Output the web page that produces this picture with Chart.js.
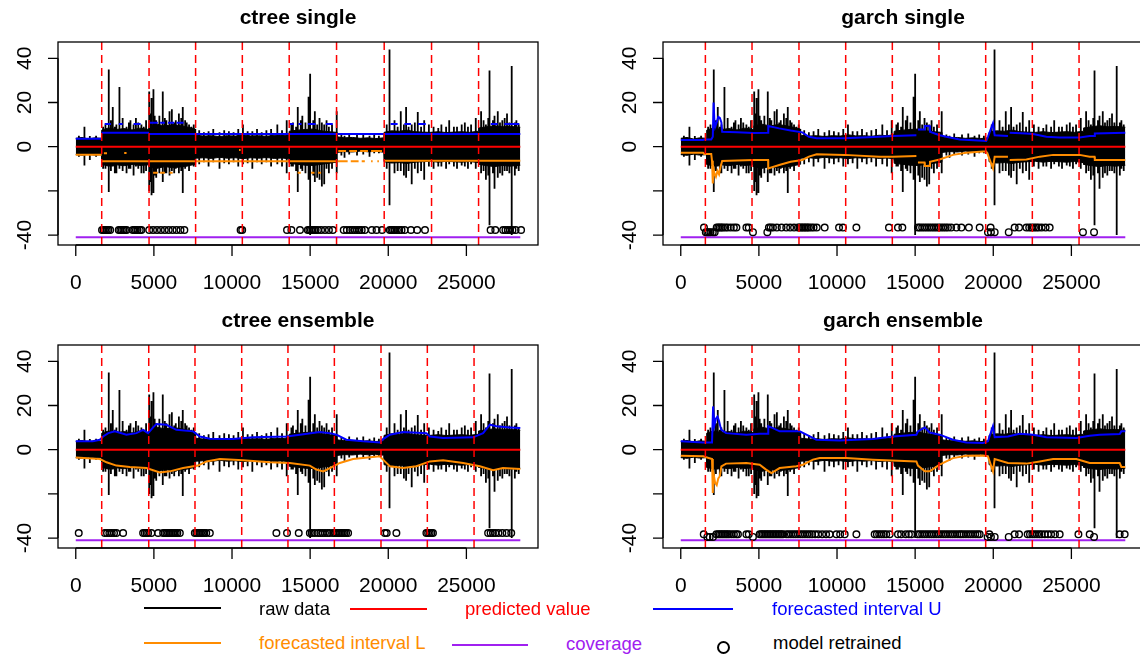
<!DOCTYPE html>
<html>
<head>
<meta charset="utf-8">
<script src="https://cdn.jsdelivr.net/npm/chart.js@4.4.0/dist/chart.umd.min.js"></script>
<style>
  html, body { margin: 0; padding: 0; background: #fff; }
  #wrap { position: relative; width: 1140px; height: 660px; overflow: hidden; font-family: "Liberation Sans", Arial, sans-serif; }
  canvas { position: absolute; }
  .ln { position: absolute; height: 2px; }
  .tx { position: absolute; font-size: 18.5px; line-height: 20px; white-space: nowrap; transform: translateY(-50%); }
  .pt { position: absolute; width: 9px; height: 9px; border: 2.5px solid #000; border-radius: 50%; }
</style>
</head>
<body>
<div id="wrap">
  <canvas id="c1" width="570" height="300" style="left:0;top:0"></canvas>
  <canvas id="c2" width="580" height="300" style="left:570px;top:0"></canvas>
  <canvas id="c3" width="570" height="300" style="left:0;top:303px"></canvas>
  <canvas id="c4" width="580" height="300" style="left:570px;top:303px"></canvas>

  <div class="ln" style="left:144px;top:607px;width:77px;background:#000"></div>
  <div class="tx" style="left:259px;top:609px;color:#000">raw data</div>
  <div class="ln" style="left:350px;top:608px;width:77px;background:#ff0000"></div>
  <div class="tx" style="left:465px;top:609px;color:#ff0000">predicted value</div>
  <div class="ln" style="left:653px;top:608px;width:80px;background:#0000ff"></div>
  <div class="tx" style="left:772px;top:609px;color:#0000ff">forecasted interval U</div>

  <div class="ln" style="left:144px;top:642px;width:77px;background:#ff8c00"></div>
  <div class="tx" style="left:259px;top:643px;color:#ff8c00">forecasted interval L</div>
  <div class="ln" style="left:452px;top:644px;width:76px;background:#a020f0"></div>
  <div class="tx" style="left:566px;top:644px;color:#a020f0">coverage</div>
  <div class="pt" style="left:717px;top:641px"></div>
  <div class="tx" style="left:773px;top:643px;color:#000">model retrained</div>
</div>
<script>
// axis ticks
const xTicks = [0, 5000, 10000, 15000, 20000, 25000];
const yTicks = [-40, -20, 0, 20, 40];
const yTickLabels = ['-40', '', '0', '20', '40'];

// raw data: dense body envelope + individual spikes (shared by all panels)
const bodyX = [0, 400, 800, 1200, 1640, 1660, 2100, 2600, 3100, 3600, 4100, 4660, 4680, 5200, 5700, 6200, 6700, 7200, 7650, 7670, 8200, 8700, 9200, 9700, 10200, 10700, 11200, 11700, 12200, 12700, 13200, 13640, 13660, 14200, 14700, 15200, 15700, 16200, 16690, 16710, 17200, 17700, 18200, 18700, 19200, 19710, 19730, 20200, 20700, 21200, 21700, 22200, 22700, 23200, 23700, 24200, 24700, 25200, 25760, 25780, 26300, 26800, 27300, 27800, 28450];
const bodyHi = [3.8, 4.2, 3.5, 4.0, 3.8,
  7.5, 8.5, 7.8, 8.2, 7.6, 8.4, 7.8,
  9.5, 10.2, 9.4, 10.0, 9.6, 8.8, 8.0,
  5.2, 4.8, 5.0, 4.6, 5.0, 4.8, 5.4, 4.9, 5.0, 4.7, 5.2, 5.0, 5.4,
  7.0, 7.5, 7.8, 8.0, 7.2, 6.8, 6.5,
  4.5, 4.0, 4.2, 3.8, 4.0, 3.7, 4.0,
  6.5, 7.2, 7.0, 7.5, 6.8, 6.6, 6.5, 6.8, 6.4, 6.6, 6.8, 6.5, 7.0,
  8.5, 9.0, 9.5, 9.0, 9.2, 8.8];
const bodyLo = [-3.6, -3.9, -3.4, -3.8, -3.6,
  -8.0, -8.8, -8.2, -8.6, -8.0, -8.5, -8.2,
  -9.2, -9.8, -9.0, -9.5, -9.2, -8.6, -8.0,
  -5.2, -5.0, -5.3, -4.8, -5.2, -5.0, -5.4, -5.0, -5.2, -4.9, -5.3, -5.1, -5.5,
  -7.5, -8.0, -8.4, -8.5, -8.0, -7.5, -7.0,
  -2.6, -2.2, -2.4, -2.0, -2.3, -2.1, -2.5,
  -6.8, -7.4, -7.2, -7.6, -7.0, -6.8, -6.6, -7.0, -6.6, -6.8, -7.0, -6.7, -7.2,
  -8.0, -8.6, -9.0, -8.5, -8.8, -8.4];

const spikeX = [200, 555, 900, 1300,
  1750, 1900, 2112, 2250, 2368, 2500, 2600, 2795, 3000, 3250, 3400, 3500, 3700, 3850, 4000, 4200, 4352, 4500,
  4700, 4780, 4850, 4971, 5050, 5150, 5350, 5568, 5700, 5800, 6000, 6150, 6300, 6400, 6600, 6750, 6848, 7000, 7100, 7250, 7400, 7550,
  7900, 8200, 8500, 8800, 9200, 9500, 9800, 10100, 10400, 10700, 11000, 11300, 11600, 11900, 12200, 12500, 12900, 13200, 13500,
  13800, 13900, 14100, 14208, 14400, 14500, 14700, 14900, 15000, 15200, 15300, 15450, 15600, 15750, 15900, 16050, 16200, 16400, 16700,
  17000, 17200, 17500, 18000, 18400, 18800, 19100, 19400,
  19900, 20080, 20400, 20600, 20800, 21000, 21141, 21300, 21500, 21700, 21888, 22100, 22300, 22600, 22900, 23200, 23400, 23700, 23900, 24200, 24400, 24700, 24900, 25100, 25300, 25600,
  25941, 26100, 26250, 26400, 26480, 26700, 26800, 27008, 27150, 27300, 27450, 27600, 27750, 27900, 28100, 28200, 28350];
const spikeHi = [5, 9, 4.8, 5,
  9, 10, 35, 12, 18, 9, 10, 27, 13, 9, 11, 12, 10, 13, 11, 10, 9, 12,
  25, 15, 22, 26, 14, 12, 14, 25, 13, 12, 16, 17, 11, 12, 15, 13, 18, 12, 11, 10, 9, 10,
  7.5, 6.5, 7, 8, 6.5, 7.5, 7, 6.5, 8, 10, 7, 7, 8, 6.5, 7.5, 8, 10, 7.5, 12,
  10, 11, 9, 18, 12, 14, 11, 22.6, 33, 12, 16, 10, 13, 11, 10, 12, 9, 10, 16,
  5.5, 5, 6, 5.5, 6, 5, 5.5, 5,
  10, 44, 12, 9, 16, 10, 18, 9, 10, 11, 15.7, 9, 12, 10, 9, 8.5, 10, 9, 12, 9, 9, 10, 11, 9, 10, 13,
  16, 12, 10, 13, 34.5, 12, 14, 16, 11, 12, 13, 15, 11, 36.5, 11, 12, 10];
const spikeLo = [-4.5, -8.5, -6, -4.5,
  -10, -10, -20.5, -11, -9, -12, -12, -10, -11, -12, -10, -10, -13, -9, -10, -12, -12, -11,
  -20, -16, -22, -21, -13, -14, -12, -16, -12, -12, -13, -11, -12, -10, -12, -11, -21, -10, -9, -11, -8, -9,
  -8, -7, -9, -7, -10, -7.5, -8, -7, -9, -8, -7.5, -10, -7, -8, -7, -9, -8, -9, -12,
  -9, -9, -11, -20.5, -10, -11, -12, -15, -40, -13, -16, -14, -15, -18, -17, -10, -12, -10, -12,
  -4, -5, -3.5, -4, -3.5, -4.5, -3, -3,
  -10, -26.5, -12, -11, -11, -13, -14, -11, -17, -10, -12, -11, -15, -9, -10, -9, -9, -10, -8, -9, -10, -8.5, -9, -10, -8, -10,
  -12, -11, -15, -13, -35.6, -12, -19, -14, -12, -13, -11, -11, -12, -40, -13, -10, -11];

// predicted value and coverage (all panels)
const predX = [0, 28450];
const predY = [0, 0];
const covX = [0, 28450];
const covY = [-41, -41];

// ---- ctree single ----
const csLines = [1660, 4690, 7670, 10660, 13660, 16690, 19740, 22770, 25780];
const csUX = [0, 1660, 1660, 1660, 4690, 4690, 4690, 28450];
const csUY = [3.6, 3.6, null, 6.3, 6.3, null, 5.8, 5.8];
const csUDash = [[1850, 2250, 10.3], [2750, 3000, 10.3], [3700, 4150, 10.3], [4700, 5250, 10.9], [5400, 5700, 10.9], [5900, 6300, 10.9], [6450, 6900, 10.9],
  [13650, 13950, 10.3], [14250, 14450, 10.3], [14850, 15350, 10.3], [16000, 16450, 10.3],
  [20150, 20600, 10.3], [21030, 21450, 10.3], [21900, 22400, 10.3], [26560, 27000, 10.3], [27430, 28390, 10.3]];
const csLX = [0, 1660, 1660, 1660, 16690, 16690, 19740, 28450];
const csLY = [-3.6, -3.6, null, -6.6, -6.6, null, -6.4, -6.4];
const csLDash = [[1800, 2000, -3.0], [3100, 3250, -2.9], [10450, 10550, -1.5],
  [4950, 5250, -11.8], [5400, 5700, -11.8], [6000, 6200, -11.8],
  [14200, 14400, -11.8], [15060, 15280, -11.8], [15500, 15700, -11.8],
  [16800, 17300, -1.9], [17500, 18000, -1.9], [18200, 18700, -1.9], [18900, 19600, -1.9],
  [16750, 17400, -6.6], [17600, 18100, -6.6], [18300, 18500, -6.6], [18900, 19000, -6.6], [19300, 19400, -6.6]];
const csRetrain = [1680, 1780, 1880, 1980, 2080, 2200, 2750, 2850, 2950, 3050, 3150, 3250, 3650, 3750, 3850, 3950, 4100, 4200,
  4700, 4950, 5200, 5450, 5700, 5950, 6200, 6450, 6700, 6950, 10550, 10650, 13520, 13800, 14350,
  14850, 14950, 15050, 15150, 15250, 15350, 15500, 15700, 15950, 16200, 16450,
  17150, 17350, 17550, 17700, 17850, 18000, 18150, 18300, 18500, 18950, 19250, 19600,
  20100, 20200, 20300, 20400, 20550, 20700, 20850, 21050, 21450, 21850, 22350,
  26550, 26850, 27350, 27500, 27650, 27800, 27950, 28150, 28500];
const csRetrainLow = [];

// ---- garch single ----
const garchLines = [1575, 4560, 7565, 10555, 13540, 16525, 19515, 22500, 25490];
const gsUX = [0, 1430, 1500, 1950, 2050, 2100, 2150, 2200, 2300, 2400, 2500, 2600, 2650, 3600, 4650, 5590, 5600, 6300, 7030, 7780, 8200, 8700, 10480, 12700, 13580, 15080, 15130, 15180, 15600, 15620, 15930, 15950, 16570, 17000, 17850, 19340, 19550, 19660, 19980, 20090, 20940, 21000, 21050, 22120, 22550, 23400, 24250, 25530, 26170, 26480, 26500, 28450];
const gsUY = [3.0, 3.0, 3.3, 3.3, 4.5, 20, 12, 9, 11, 13.5, 13, 11, 6.8, 6.5, 6.2, 6.3, 9.4, 8.3, 7.3, 6.5, 4.5, 3.8, 3.8, 4.5, 4.9, 5.2, null, 7.8, 7.8, 9.4, 9.4, 6.8, 5.2, 4.5, 3.3, 2.7, 2.6, 4.5, 10.6, 5.2, 4.8, null, 6.3, 6.0, 5.7, 4.5, 4.2, 4.2, 4.8, 4.8, 6.0, 6.3];
const gsLX = [0, 1430, 1500, 1950, 2000, 2050, 2100, 2150, 2250, 2350, 2450, 2550, 2650, 3600, 4650, 5590, 5600, 6300, 7030, 7780, 8200, 8700, 10480, 12700, 13580, 15080, 15130, 15180, 15600, 15620, 15930, 15950, 16570, 17420, 18270, 19340, 19550, 19660, 19980, 20090, 20940, 21000, 21050, 22120, 22980, 23830, 25530, 26170, 26480, 26500, 28450];
const gsLY = [-2.7, -2.7, -3.3, -3.3, -6.4, -16.6, -10, -12, -13.6, -11, -12.5, -9, -6.5, -6.3, -6.0, -6.0, -9.8, -8.3, -6.8, -6.0, -4.5, -3.4, -3.7, -4.5, -4.5, -4.2, null, -7.2, -7.2, -8.7, -8.7, -6.8, -5.8, -3.7, -2.7, -2.2, -2.2, -3.7, -9.8, -4.5, -4.5, null, -6.0, -5.8, -4.5, -3.7, -3.7, -4.5, -4.5, -6.0, -6.0];
const gsRetrain = [1485, 2300, 2400, 2500, 2600, 2700, 2850, 3000, 3200, 3400, 3560, 4200, 4350,
  5640, 5750, 5900, 6150, 6450, 6750, 7000, 7250, 7500, 7600, 7700, 7800, 7900, 8000, 8100, 8200, 8350, 8500, 8700,
  9210, 10130, 10380, 11240, 13325, 13900, 14180,
  15180, 15300, 15450, 15600, 15750, 15900, 16050, 16200, 16350, 16500, 16650, 16800, 16950, 17100, 17300, 17640,
  17960, 18440, 19130, 19830, 21370, 21650, 22120, 22300, 22450, 22600, 22750, 22900, 23100, 23350, 23610];
const gsRetrainLow = [1600, 1700, 1800, 1900, 2050, 2170, 4620, 5540, 19660, 19850, 20090, 20990, 25740, 26450];

// ---- ctree ensemble ----
const ceLines = [1660, 4670, 7630, 10620, 13580, 16550, 19535, 22500, 25490];
const ceUX = [0, 1088, 1540, 1750, 2080, 2500, 3245, 3880, 4310, 4630, 4950, 5160, 5800, 6440, 7510, 7940, 8580, 10070, 11350, 13480, 14340, 15620, 16260, 16680, 17320, 18390, 19460, 19670, 20100, 20950, 22440, 22660, 23510, 25430, 26070, 26500, 26920, 27780, 28450];
const ceUY = [3.8, 3.8, 4.5, 6.0, 7.5, 8.3, 6.8, 7.5, 9.0, 7.5, 10.1, 11.6, 11.3, 9.0, 8.3, 6.0, 5.0, 4.8, 5.6, 6.0, 6.8, 8.0, 7.5, 6.8, 4.5, 3.8, 3.3, 4.8, 6.8, 8.0, 7.5, 6.0, 5.3, 5.6, 7.5, 11.3, 10.6, 10.1, 9.8];
const ceLX = [0, 1540, 1970, 2600, 3460, 4520, 5380, 6020, 6870, 7820, 8370, 9220, 10710, 12420, 13700, 14980, 15400, 15840, 16480, 16900, 17750, 19450, 19780, 20100, 20950, 21800, 22660, 23510, 24790, 25860, 26710, 27340, 28450];
const ceLY = [-3.5, -4.2, -5.7, -7.2, -7.8, -8.3, -10.3, -9.8, -8.3, -7.2, -5.3, -4.2, -4.8, -5.7, -6.0, -7.2, -9.0, -9.8, -7.5, -6.0, -4.2, -3.0, -5.3, -7.5, -8.3, -7.5, -5.3, -4.8, -6.0, -7.5, -9.3, -8.3, -8.7];
const ceRetrain = [190, 1860, 2000, 2150, 2300, 2450, 2600, 3030, 4310, 4420, 4530, 4630, 4840, 5270,
  5590, 5700, 5800, 5900, 6000, 6100, 6200, 6300, 6400, 6500, 6660,
  7620, 7720, 7820, 7920, 8020, 8120, 8220, 8350, 8580, 12840, 13520, 14270,
  14980, 15100, 15300, 15510, 15650, 15800, 15950, 16100, 16250, 16470, 16580, 16700, 16800, 16900, 17000, 17100, 17200, 17300, 17430,
  19780, 19900, 20520, 22440, 22550, 22650, 22760, 22860, 26390, 26550, 26700, 26850, 27050, 27300, 27570, 27870];
const ceRetrainLow = [];

// ---- garch ensemble ----
const geUX = [0, 1430, 2000, 2070, 2150, 2250, 2350, 2450, 2550, 2600, 2900, 4200, 5050, 5590, 5600, 5900, 6330, 7610, 8040, 8680, 10170, 12300, 13580, 15080, 15180, 15620, 15930, 16570, 17420, 18270, 19340, 19660, 19980, 20090, 20940, 21690, 22550, 23400, 25320, 26170, 26810, 28090, 28200, 28450];
const geUY = [3.8, 3.3, 3.3, 19.6, 11, 14, 15, 13, 10, 9.0, 7.5, 6.8, 7.2, 7.2, 10.6, 9.8, 8.3, 8.3, 6.8, 4.5, 4.2, 4.8, 6.0, 6.8, 8.3, 10.1, 7.8, 6.8, 4.5, 3.3, 3.0, 3.8, 10.6, 5.7, 6.0, 7.2, 6.8, 5.6, 5.3, 6.3, 6.8, 7.1, 8.3, 8.3];
const geLX = [0, 1430, 2000, 2050, 2100, 2200, 2300, 2400, 2500, 2600, 2900, 4200, 5050, 5460, 5800, 6330, 7400, 7820, 8460, 8890, 10600, 12300, 15080, 15180, 15620, 15930, 16570, 17420, 18270, 19340, 19660, 19980, 20090, 20940, 22120, 22980, 23830, 25320, 26170, 28090, 28200, 28450];
const geLY = [-2.7, -3.0, -4.2, -19.6, -11, -15, -16, -13, -12, -7.5, -6.3, -6.0, -6.8, -9.0, -10.6, -8.3, -7.5, -6.8, -4.5, -3.8, -3.8, -4.5, -5.3, -7.2, -9.8, -9.8, -6.8, -3.8, -2.7, -2.6, -3.0, -9.8, -4.2, -6.0, -6.3, -5.3, -4.2, -4.2, -6.0, -6.0, -7.8, -7.8];
const geRetrain = [1470, 2280, 2400, 2500, 2600, 2700, 2800, 2900, 3000, 3100, 3250, 3400, 3550, 3660, 4200, 4350,
  5050, 5150, 5250, 5350, 5450, 5550, 5650, 5750, 5850, 5950, 6050, 6150, 6250, 6350, 6450, 6550,
  6760, 6900, 7050, 7200, 7350, 7500, 7650, 7800, 7950, 8100, 8250, 8400, 8600, 8800, 9050, 9300, 9530,
  9960, 10200, 10490, 11240, 12410, 12550, 12700, 12850, 13000, 13150, 13370, 13900, 14100, 14400, 14600, 14760,
  15160, 15300, 15450, 15600, 15750, 15900, 16050, 16200, 16350, 16500, 16650, 16800, 16950, 17100, 17250, 17400, 17550, 17700, 17850,
  17960, 18100, 18250, 18400, 18550, 18700, 18850, 19000, 19130, 19750,
  21370, 21650, 22200, 22350, 22500, 22650, 22800, 22950, 23100, 23300, 23500, 23700, 23950, 24250, 25450, 26170, 28090, 28410];
const geRetrainLow = [1700, 1850, 2060, 4620, 19640, 19850, 20090, 20990, 26450];

const RED = '#ff0000', BLUE = '#0000ff', ORANGE = '#ff8c00', PURPLE = '#a020f0';
const FONT = '"Liberation Sans", Arial, sans-serif';

const xy = (xs, ys) => xs.map((x, i) => ({ x, y: ys[i] }));
const segs = list => list.flatMap(([a, b, v]) => [{ x: a, y: v }, { x: b, y: v }, { x: b, y: null }]);

const rAxes = {
  id: 'rAxes',
  afterDraw(chart, args, opts) {
    const { ctx, chartArea: a, scales: { x, y } } = chart;
    ctx.save();
    ctx.strokeStyle = '#000';
    ctx.lineWidth = 1.3;
    ctx.strokeRect(a.left, a.top, a.right - a.left, a.bottom - a.top);
    ctx.beginPath();
    ctx.moveTo(x.getPixelForValue(xTicks[0]), a.bottom);
    ctx.lineTo(x.getPixelForValue(xTicks[xTicks.length - 1]), a.bottom);
    xTicks.forEach(v => {
      const p = x.getPixelForValue(v);
      ctx.moveTo(p, a.bottom); ctx.lineTo(p, a.bottom + 11);
    });
    ctx.moveTo(a.left, y.getPixelForValue(yTicks[0]));
    ctx.lineTo(a.left, y.getPixelForValue(yTicks[yTicks.length - 1]));
    yTicks.forEach(v => {
      const p = y.getPixelForValue(v);
      ctx.moveTo(a.left, p); ctx.lineTo(a.left - 10, p);
    });
    ctx.stroke();

    ctx.fillStyle = '#000';
    ctx.textAlign = 'center';
    ctx.textBaseline = 'middle';
    ctx.font = '21px ' + FONT;
    xTicks.forEach(v => ctx.fillText(String(v), x.getPixelForValue(v), a.bottom + 38));
    yTicks.forEach((v, i) => {
      if (!yTickLabels[i]) return;
      ctx.save();
      ctx.translate(a.left - 33, y.getPixelForValue(v));
      ctx.rotate(-Math.PI / 2);
      ctx.fillText(yTickLabels[i], 0, 0);
      ctx.restore();
    });
    ctx.font = 'bold 21px ' + FONT;
    ctx.fillText(opts.title, (a.left + a.right) / 2, a.top - 24);
    ctx.restore();
  }
};

function makePanel(id, title, pad, p) {
  const spikes = spikeX.flatMap((x, i) => [{ x, y: spikeLo[i] }, { x, y: spikeHi[i] }, { x, y: null }]);
  const circles = p.retrain.map(x => ({ x, y: p.level }))
    .concat(p.retrainLow.map(x => ({ x, y: p.levelLow })));
  const vlines = p.lines.flatMap(x => [{ x, y: -44.5 }, { x, y: 47.4 }, { x, y: null }]);

  new Chart(document.getElementById(id), {
    type: 'line',
    data: {
      datasets: [
        { data: xy(bodyX, bodyHi), borderColor: '#000', backgroundColor: '#000', borderWidth: 1, fill: '+1', order: 9 },
        { data: xy(bodyX, bodyLo), borderColor: '#000', borderWidth: 1, fill: false, order: 9 },
        { data: spikes, borderColor: '#000', borderWidth: 1.8, order: 8 },
        { data: xy(predX, predY), borderColor: RED, borderWidth: 2, order: 3 },
        { data: xy(p.ux, p.uy), borderColor: BLUE, borderWidth: 2, order: 4 },
        { data: segs(p.uDash), borderColor: BLUE, borderWidth: 2, order: 4 },
        { data: xy(p.lx, p.ly), borderColor: ORANGE, borderWidth: 2, order: 4 },
        { data: segs(p.lDash), borderColor: ORANGE, borderWidth: 2, order: 4 },
        { data: xy(covX, covY), borderColor: PURPLE, borderWidth: 2, order: 2 },
        { data: circles, showLine: false, pointRadius: 3.3, pointBorderWidth: 1.4,
          pointBorderColor: '#000', pointBackgroundColor: 'rgba(0,0,0,0)', order: 1 },
        { data: vlines, borderColor: RED, borderWidth: 1.5, borderDash: [8, 5], order: 0 }
      ]
    },
    options: {
      responsive: false,
      animation: false,
      events: [],
      layout: { padding: pad },
      elements: { point: { radius: 0 }, line: { tension: 0 } },
      scales: {
        x: { type: 'linear', display: false, min: -1137, max: 29583 },
        y: { type: 'linear', display: false, min: -44.5, max: 47.4 }
      },
      plugins: { legend: { display: false }, tooltip: { enabled: false }, rAxes: { title } }
    },
    plugins: [rAxes]
  });
}

const padL = { left: 58, right: 32, top: 42, bottom: 55 };
const padR = { left: 93, right: 7, top: 42, bottom: 55 };

makePanel('c1', 'ctree single', padL, {
  lines: csLines, ux: csUX, uy: csUY, uDash: csUDash, lx: csLX, ly: csLY, lDash: csLDash,
  retrain: csRetrain, retrainLow: csRetrainLow, level: -37.7, levelLow: -37.7 });
makePanel('c2', 'garch single', padR, {
  lines: garchLines, ux: gsUX, uy: gsUY, uDash: [], lx: gsLX, ly: gsLY, lDash: [],
  retrain: gsRetrain, retrainLow: gsRetrainLow, level: -36.6, levelLow: -38.7 });
makePanel('c3', 'ctree ensemble', padL, {
  lines: ceLines, ux: ceUX, uy: ceUY, uDash: [], lx: ceLX, ly: ceLY, lDash: [],
  retrain: ceRetrain, retrainLow: ceRetrainLow, level: -37.7, levelLow: -37.7 });
makePanel('c4', 'garch ensemble', padR, {
  lines: garchLines, ux: geUX, uy: geUY, uDash: [], lx: geLX, ly: geLY, lDash: [],
  retrain: geRetrain, retrainLow: geRetrainLow, level: -38.3, levelLow: -39.5 });
</script>
</body>
</html>
